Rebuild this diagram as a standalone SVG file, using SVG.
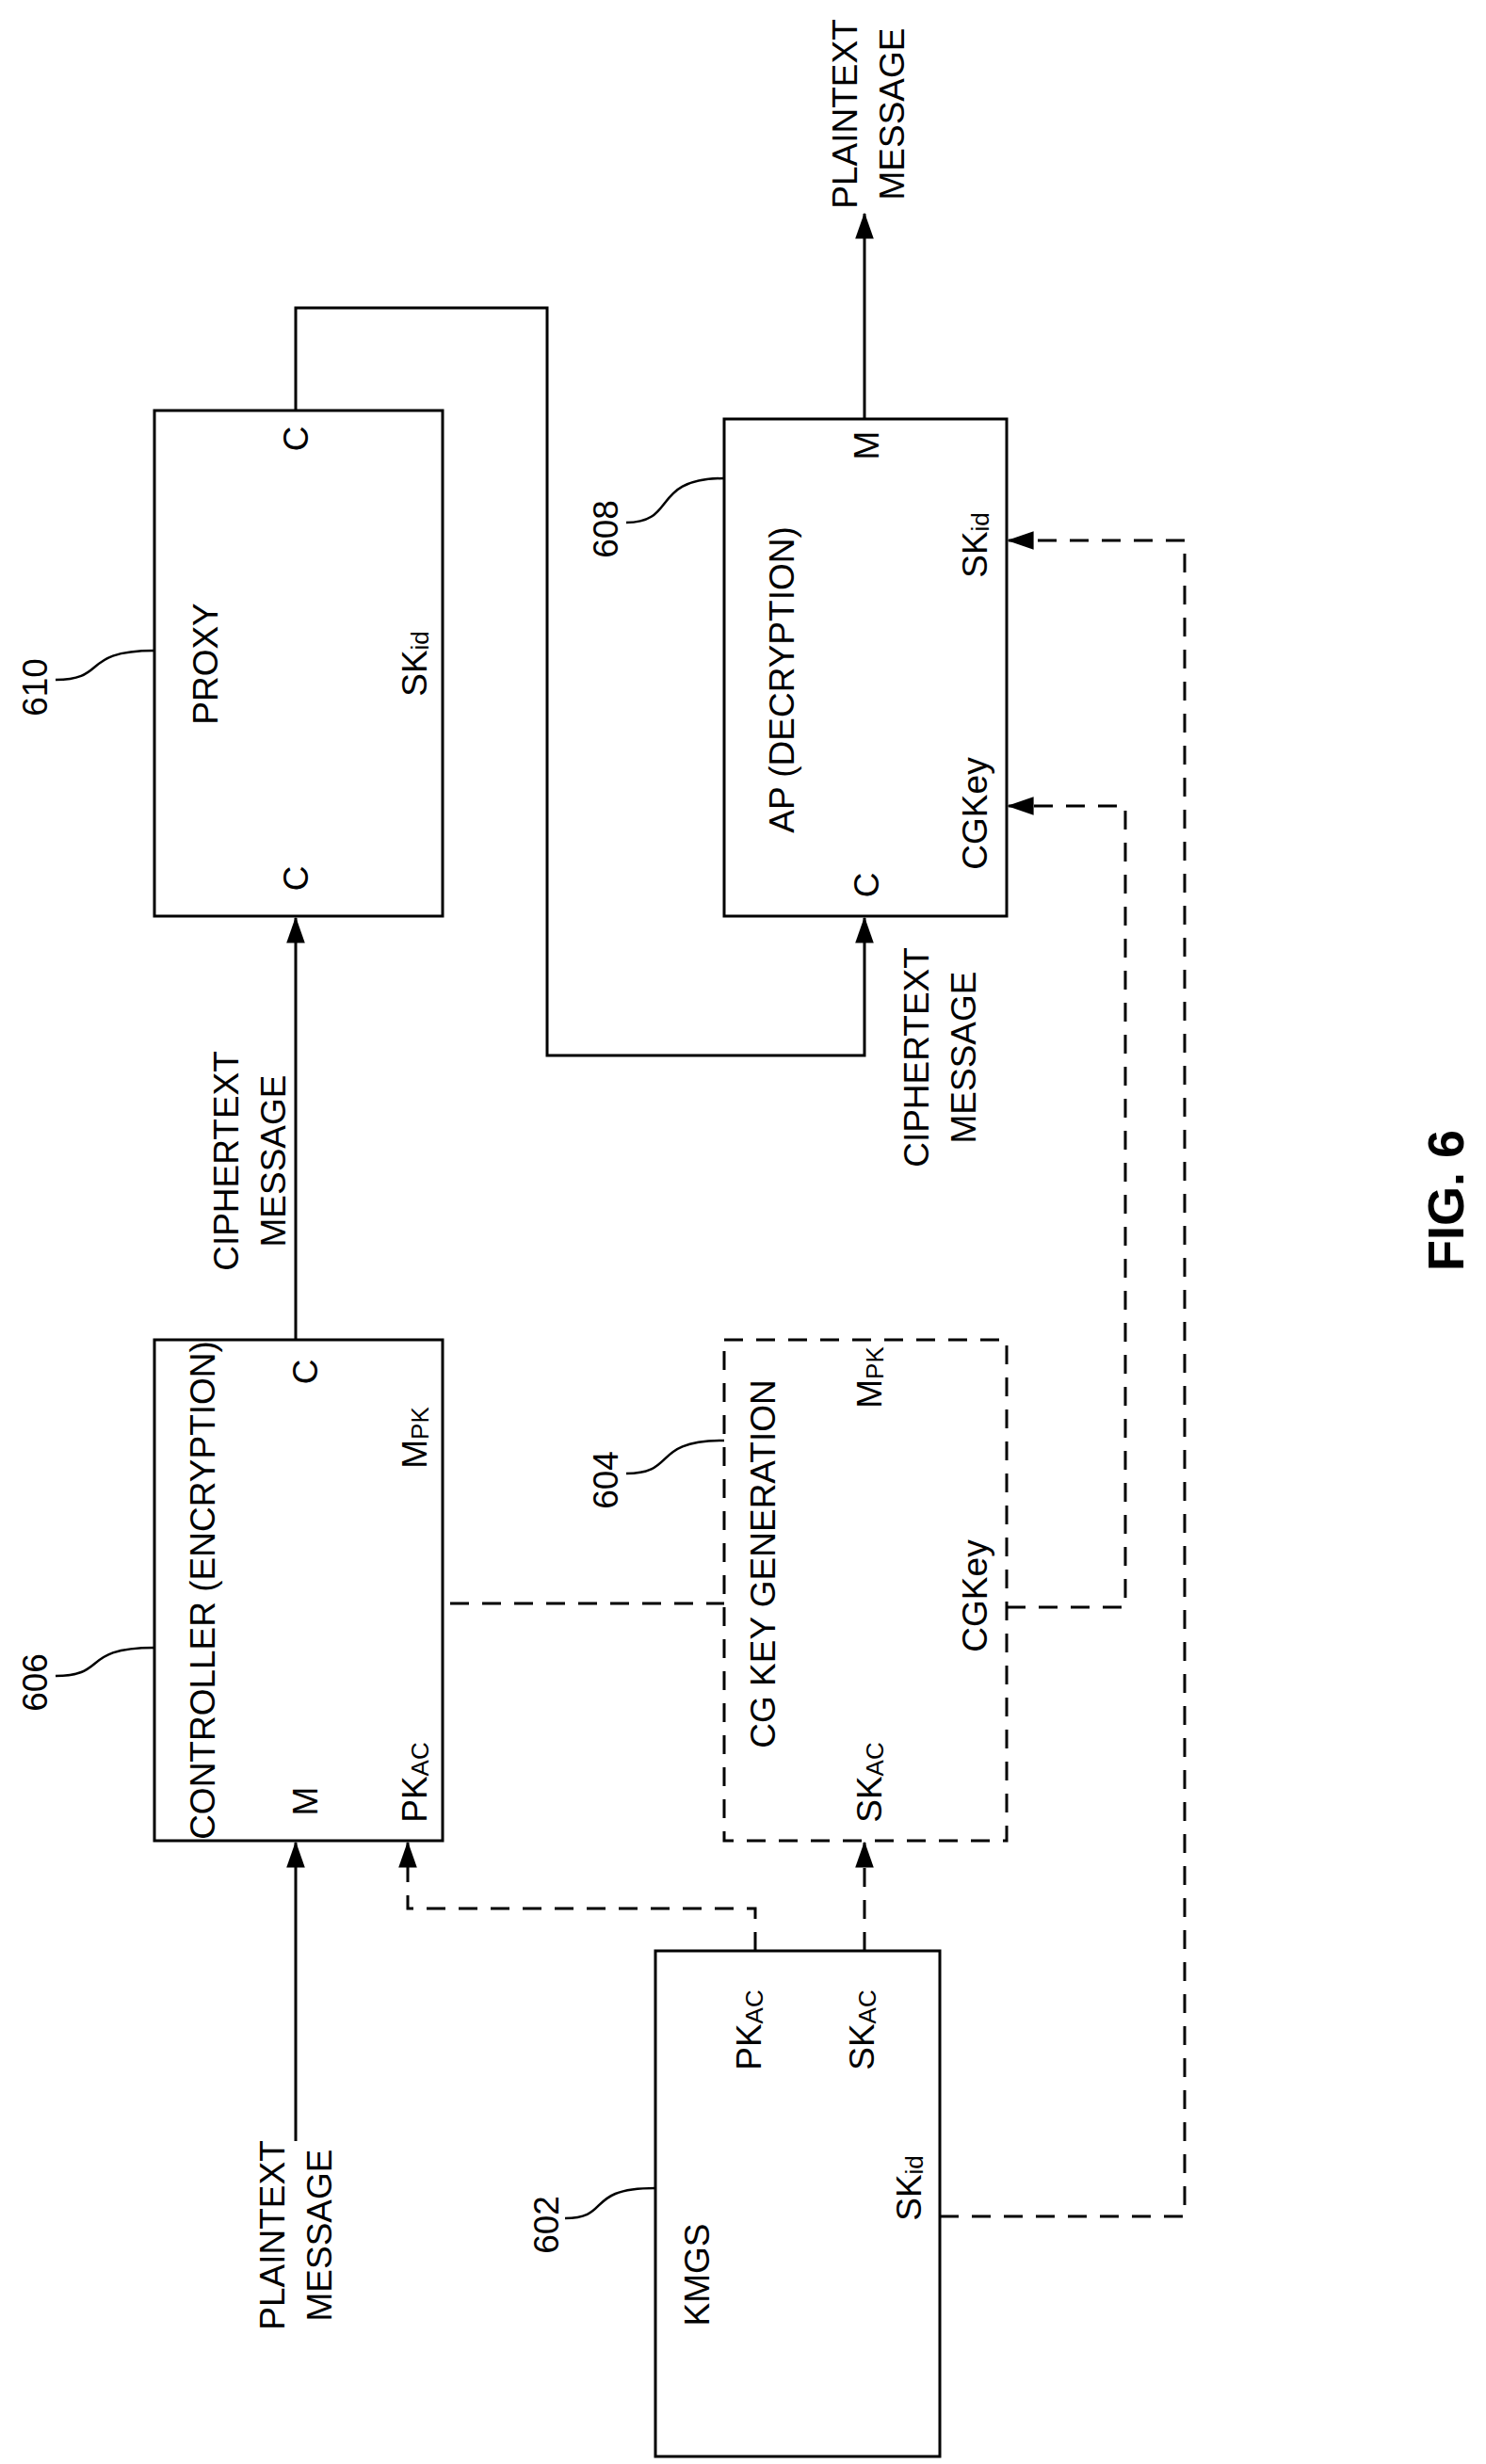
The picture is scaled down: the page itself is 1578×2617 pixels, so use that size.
<svg xmlns="http://www.w3.org/2000/svg" width="1578" height="2617" viewBox="0 0 1578 2617">
<style>
text{font-family:"Liberation Sans",Arial,sans-serif;font-size:37px;fill:#000;dominant-baseline:central;text-anchor:middle}
.box{fill:#fff;stroke:#000;stroke-width:3}
.dbox{fill:#fff;stroke:#000;stroke-width:3;stroke-dasharray:20 14}
.ln{fill:none;stroke:#000;stroke-width:3}
.dl{fill:none;stroke:#000;stroke-width:3;stroke-dasharray:20 14}
.lead{fill:none;stroke:#000;stroke-width:2.5}
.fig{font-weight:bold;font-size:54px}
</style>
<defs>
<marker id="ah" markerUnits="userSpaceOnUse" markerWidth="28" markerHeight="40" refX="38" refY="14" orient="auto" viewBox="0 0 40 28">
<path d="M0,0 L40,14 L0,28 Z" fill="#000"/>
</marker>
</defs>
<g id="connectors">
<path class="ln" d="M314,436 V327 H581 V1121 H918 V975" marker-end="url(#ah)"/>
<path class="ln" d="M314,1423 V975" marker-end="url(#ah)"/>
<path class="ln" d="M918,445 V227" marker-end="url(#ah)"/>
<path class="ln" d="M314,2274 V1957" marker-end="url(#ah)"/>
<path class="dl" d="M802,2072 V2027 H433 V1957" marker-end="url(#ah)"/>
<path class="dl" d="M918,2072 V1957" marker-end="url(#ah)"/>
<path class="dl" d="M478,1703 H769"/>
<path class="dl" d="M1069,1707 H1195 V856 H1071" marker-end="url(#ah)"/>
<path class="dl" d="M998,2354 H1258 V574 H1071" marker-end="url(#ah)"/>
<text transform="translate(240,1233) rotate(-90)">CIPHERTEXT</text>
<text transform="translate(290,1233) rotate(-90)">MESSAGE</text>
<text transform="translate(973,1123) rotate(-90)">CIPHERTEXT</text>
<text transform="translate(1023,1123) rotate(-90)">MESSAGE</text>
<text transform="translate(897,121) rotate(-90)">PLAINTEXT</text>
<text transform="translate(947,121) rotate(-90)">MESSAGE</text>
<text transform="translate(289,2374) rotate(-90)">PLAINTEXT</text>
<text transform="translate(339,2374) rotate(-90)">MESSAGE</text>
</g>
<g id="proxy">
<rect class="box" x="164" y="436" width="306" height="537"/>
<text transform="translate(218,705) rotate(-90)">PROXY</text>
<text transform="translate(314,466) rotate(-90)">C</text>
<text transform="translate(314,933) rotate(-90)">C</text>
<text transform="translate(440,705) rotate(-90)">SK<tspan font-size="26" dy="6">id</tspan></text>
<text transform="translate(37,730) rotate(-90)">610</text>
<path class="lead" d="M59,722 C115,722 85,691 164,691"/>
</g>
<g id="ap">
<rect class="box" x="769" y="445" width="300" height="528"/>
<text transform="translate(830,722) rotate(-90)">AP (DECRYPTION)</text>
<text transform="translate(920,473) rotate(-90)">M</text>
<text transform="translate(920,940) rotate(-90)">C</text>
<text transform="translate(1035,579) rotate(-90)">SK<tspan font-size="26" dy="6">id</tspan></text>
<text transform="translate(1035,864) rotate(-90)">CGKey</text>
<text transform="translate(643,562) rotate(-90)">608</text>
<path class="lead" d="M665,555 C720,555 690,508 769,508"/>
</g>
<g id="controller">
<rect class="box" x="164" y="1423" width="306" height="532"/>
<text transform="translate(215,1689) rotate(-90)" font-size="34">CONTROLLER (ENCRYPTION)</text>
<text transform="translate(324,1457) rotate(-90)">C</text>
<text transform="translate(324,1913) rotate(-90)">M</text>
<text transform="translate(440,1527) rotate(-90)">M<tspan font-size="26" dy="6">PK</tspan></text>
<text transform="translate(440,1893) rotate(-90)">PK<tspan font-size="26" dy="6">AC</tspan></text>
<text transform="translate(37,1787) rotate(-90)">606</text>
<path class="lead" d="M59,1780 C115,1780 85,1750 164,1750"/>
</g>
<g id="cgkeygen">
<rect class="dbox" x="769" y="1423" width="300" height="532"/>
<text transform="translate(810,1661) rotate(-90)">CG KEY GENERATION</text>
<text transform="translate(923,1463) rotate(-90)">M<tspan font-size="26" dy="6">PK</tspan></text>
<text transform="translate(923,1893) rotate(-90)">SK<tspan font-size="26" dy="6">AC</tspan></text>
<text transform="translate(1035,1695) rotate(-90)">CGKey</text>
<text transform="translate(643,1572) rotate(-90)">604</text>
<path class="lead" d="M665,1565 C720,1565 690,1530 769,1530"/>
</g>
<g id="kmgs">
<rect class="box" x="696" y="2072" width="302" height="537"/>
<text transform="translate(740,2416) rotate(-90)">KMGS</text>
<text transform="translate(795,2156) rotate(-90)">PK<tspan font-size="26" dy="6">AC</tspan></text>
<text transform="translate(915,2156) rotate(-90)">SK<tspan font-size="26" dy="6">AC</tspan></text>
<text transform="translate(965,2324) rotate(-90)">SK<tspan font-size="26" dy="6">id</tspan></text>
<text transform="translate(580,2363) rotate(-90)">602</text>
<path class="lead" d="M600,2356 C650,2356 620,2324 696,2324"/>
</g>
<text class="fig" transform="translate(1535,1275) rotate(-90)">FIG. 6</text>
</svg>
